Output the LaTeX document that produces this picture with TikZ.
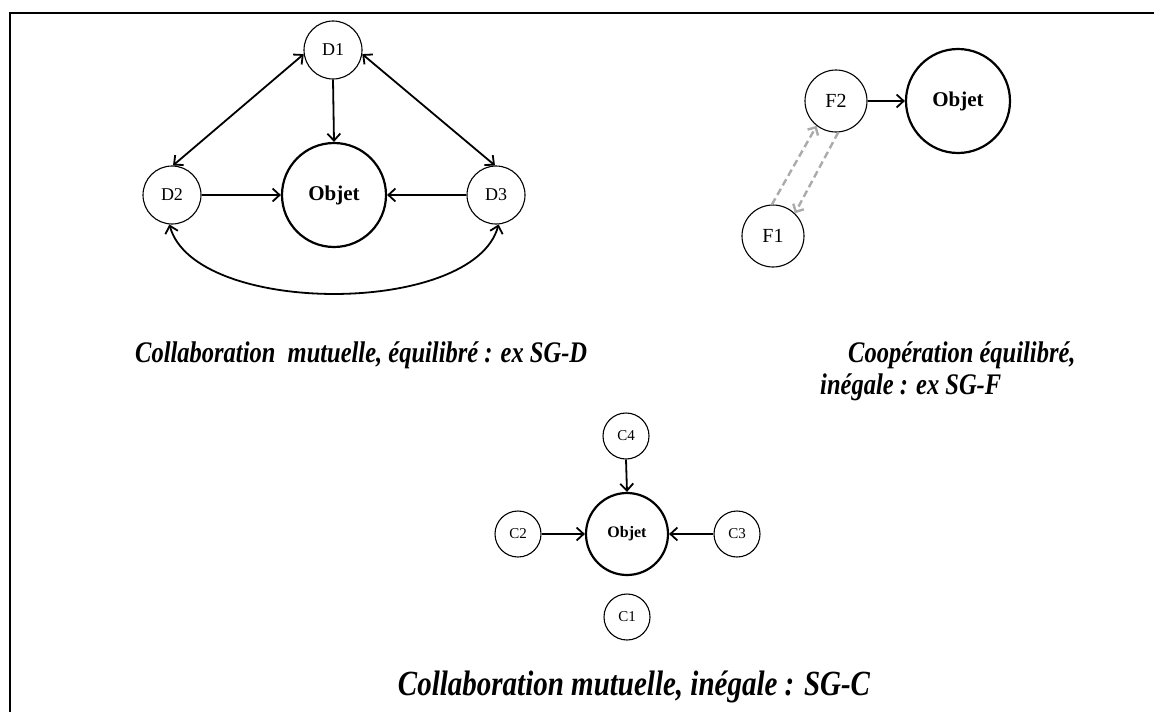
\documentclass[tikz,border=0pt]{standalone}
\usepackage{graphicx}
\usepackage{fontspec}
\setmainfont{Liberation Serif}
\usetikzlibrary{arrows.meta,calc}
\newcommand{\tallcap}[1]{\scalebox{1}[1.22]{#1}}
\begin{document}
\begin{tikzpicture}[x=1pt,y=-1pt,
  small/.style={circle,draw,line width=1.1pt,minimum size=58pt,inner sep=0pt,font=\fontsize{18}{18}\selectfont},
  big/.style={circle,draw,line width=2.2pt,minimum size=104pt,inner sep=0pt,font=\bfseries\fontsize{21}{21}\selectfont},
  csmall/.style={circle,draw,line width=1.1pt,minimum size=46pt,inner sep=0pt,font=\fontsize{15}{15}\selectfont},
  cbig/.style={circle,draw,line width=2.2pt,minimum size=82pt,inner sep=0pt,font=\bfseries\fontsize{16}{16}\selectfont},
  arr/.style={line width=1.8pt,-{Straight Barb[length=7pt,width=13pt,line width=1.8pt]}},
  darr/.style={line width=1.8pt,{Straight Barb[length=7pt,width=13pt,line width=1.8pt]}-{Straight Barb[length=7pt,width=13pt,line width=1.8pt]}},
  garr/.style={line width=2.4pt,draw=black!33,dash pattern=on 7pt off 4pt,-{Straight Barb[length=6pt,width=12pt,line width=2.4pt]}},
  captxt/.style={font=\bfseries\itshape\fontsize{24.5}{24.5}\selectfont,inner sep=0pt}
]
\useasboundingbox (0,0) rectangle (1154,712);
% frame
\draw[line width=2pt] (10,712) -- (10,13) -- (1154,13);

% ---- SG-D ----
\node[small] (D1) at (333,50) {D1};
\node[small] (D2) at (172,195) {D2};
\node[small] (D3) at (496,195) {D3};
\node[big] (OD) at (334,195) {Objet};
\draw[darr] (D1.188) -- (D2.88);
\draw[darr] (D1.-8) -- (D3.92);
\draw[arr] (D1.south) -- (OD.north);
\draw[arr] (D2.east) -- (OD.west);
\draw[arr] (D3.west) -- (OD.east);
\draw[darr] (D2.-95) .. controls ($(D2.-95)+(25,92)$) and ($(D3.-85)+(-25,92)$) .. (D3.-85);
\node[captxt,anchor=base west] (capD) at (135,362) {\tallcap{Collaboration\ \ mutuelle, équilibré : ex SG-D}};

% ---- SG-F ----
\node[small,minimum size=62pt,font=\fontsize{20}{20}\selectfont] (F2) at (836,101) {F2};
\node[small,minimum size=62pt,font=\fontsize{20}{20}\selectfont] (F1) at (773,236) {F1};
\node[big] (OF) at (958,101) {Objet};
\draw[arr] (F2.east) -- (OF.west);
\draw[garr] (F1.92) -- (F2.232);
\draw[garr] (F2.274) -- (F1.46);
\node[captxt,anchor=base west] (capF1) at (848,362) {\tallcap{Coopération équilibré,}};
\node[captxt,anchor=base west] (capF2) at (820,394) {\tallcap{inégale : ex SG-F}};

% ---- SG-C ----
\node[csmall] (C4) at (626,436) {C4};
\node[csmall] (C2) at (518,534) {C2};
\node[csmall] (C3) at (737,534) {C3};
\node[csmall] (C1) at (627,617) {C1};
\node[cbig] (OC) at (627,534) {Objet};
\draw[arr] (C4.south) -- (OC.north);
\draw[arr] (C2.east) -- (OC.west);
\draw[arr] (C3.west) -- (OC.east);
\node[captxt,font=\bfseries\itshape\fontsize{29}{29}\selectfont,anchor=base] (capC) at (634,695) {\tallcap{Collaboration mutuelle, inégale : SG-C}};
\end{tikzpicture}
\end{document}
